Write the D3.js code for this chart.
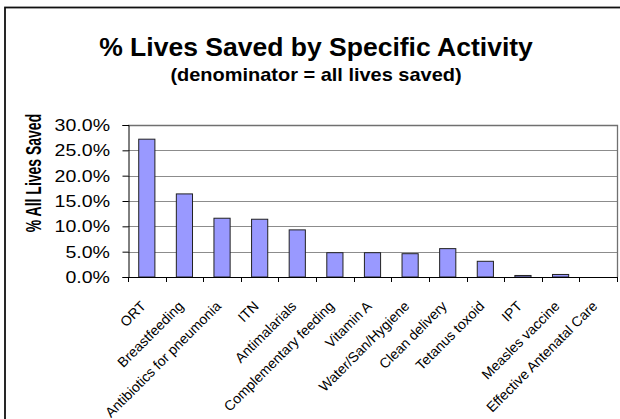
<!DOCTYPE html>
<html>
<head>
<meta charset="utf-8">
<script src="https://cdn.jsdelivr.net/npm/d3@7"></script>
<style>
  body { margin: 0; background: #fff; }
  text { font-family: "Liberation Sans", Arial, sans-serif; fill: #000; }
</style>
</head>
<body>
<div id="chart"></div>
<script>
// data
var activities = ['ORT', 'Breastfeeding', 'Antibiotics for pneumonia', 'ITN', 'Antimalarials',
  'Complementary feeding', 'Vitamin A', 'Water/San/Hygiene', 'Clean delivery', 'Tetanus toxoid',
  'IPT', 'Measles vaccine', 'Effective Antenatal Care'];
var pctSaved = [0.272, 0.164, 0.116, 0.114, 0.093, 0.048, 0.048, 0.046, 0.056, 0.031, 0.003, 0.005, 0.0];
var yTicks = [0, 0.05, 0.10, 0.15, 0.20, 0.25, 0.30];

var W = 620, H = 419;
var plot = {left: 128, top: 125, right: 617, bottom: 277};

var svg = d3.select('#chart').append('svg').attr('width', W).attr('height', H);

// outer chart frame (runs off the right / bottom of the picture)
svg.append('rect').attr('x', 5).attr('y', 7.5).attr('width', 700).attr('height', 500)
  .attr('fill', '#fff').attr('stroke', '#111').attr('stroke-width', 1.8);

var x = d3.scaleBand().domain(activities).range([plot.left, plot.right]).paddingInner(0.57).paddingOuter(0.285);
var xb = d3.scaleBand().domain(activities).range([plot.left, plot.right]); // full bands for ticks
var y = d3.scaleLinear().domain([0, 0.30]).range([plot.bottom, plot.top]);
var fmt = d3.format('.1%');

// gridlines
svg.append('g').selectAll('line').data(yTicks.slice(1, -1)).join('line')
  .attr('x1', plot.left).attr('x2', plot.right)
  .attr('y1', d => Math.round(y(d)) + 0.5).attr('y2', d => Math.round(y(d)) + 0.5)
  .attr('stroke', '#8c8c8c').attr('stroke-width', 1);

// plot area border (top + right)
svg.append('path')
  .attr('d', 'M' + plot.left + ',' + (plot.top + 0.5) + 'H' + (plot.right + 0.5) + 'V' + plot.bottom)
  .attr('fill', 'none').attr('stroke', '#707070').attr('stroke-width', 1.3);

// bars
svg.append('g').selectAll('rect').data(pctSaved).join('rect')
  .attr('x', (d, i) => x(activities[i]))
  .attr('width', x.bandwidth())
  .attr('y', d => y(d))
  .attr('height', d => y(0) - y(d))
  .attr('fill', '#9999ff').attr('stroke', '#222').attr('stroke-width', 1)
  .attr('display', d => d > 0 ? null : 'none');

// y axis
var yAxis = svg.append('g').attr('transform', 'translate(' + (plot.left + 0.5) + ',0)')
  .call(d3.axisLeft(y).tickValues(yTicks).tickSize(6).tickFormat(''));
yAxis.select('.domain').attr('stroke', '#000');
yAxis.selectAll('.tick line').attr('stroke', '#000');

svg.append('g').selectAll('text').data(yTicks).join('text')
  .attr('transform', d => 'translate(110,' + y(d) + ') scale(1.15,1)')
  .attr('text-anchor', 'end').attr('dy', '0.36em')
  .style('font-size', '17px')
  .text(d => fmt(d));

// x axis with ticks on the band edges
var edges = activities.map(a => xb(a)).concat([plot.right]);
svg.append('line').attr('x1', plot.left).attr('x2', plot.right + 1)
  .attr('y1', plot.bottom + 0.5).attr('y2', plot.bottom + 0.5).attr('stroke', '#000');
svg.append('g').selectAll('line').data(edges).join('line')
  .attr('x1', d => Math.round(d) + 0.5).attr('x2', d => Math.round(d) + 0.5)
  .attr('y1', plot.bottom).attr('y2', plot.bottom + 5).attr('stroke', '#000');

svg.append('g').selectAll('text').data(activities).join('text')
  .attr('transform', d => 'translate(' + (xb(d) + xb.bandwidth() / 2 - 7) + ',300) rotate(-45)')
  .attr('text-anchor', 'end').attr('dy', '0.71em')
  .style('font-size', '14px')
  .text(d => d);

// axis title
svg.append('text')
  .attr('transform', 'translate(33,173) scale(1.6,1) rotate(-90)')
  .attr('text-anchor', 'middle').attr('dy', '0.36em')
  .style('font-size', '14px').style('font-weight', 'bold')
  .text('% All Lives Saved');

// titles
svg.append('text')
  .attr('transform', 'translate(316,56) scale(1.02,1)')
  .attr('text-anchor', 'middle')
  .style('font-size', '26px').style('font-weight', 'bold')
  .text('% Lives Saved by Specific Activity');
svg.append('text')
  .attr('transform', 'translate(316,81) scale(1.11,1)')
  .attr('text-anchor', 'middle')
  .style('font-size', '18px').style('font-weight', 'bold')
  .text('(denominator = all lives saved)');
</script>
</body>
</html>
